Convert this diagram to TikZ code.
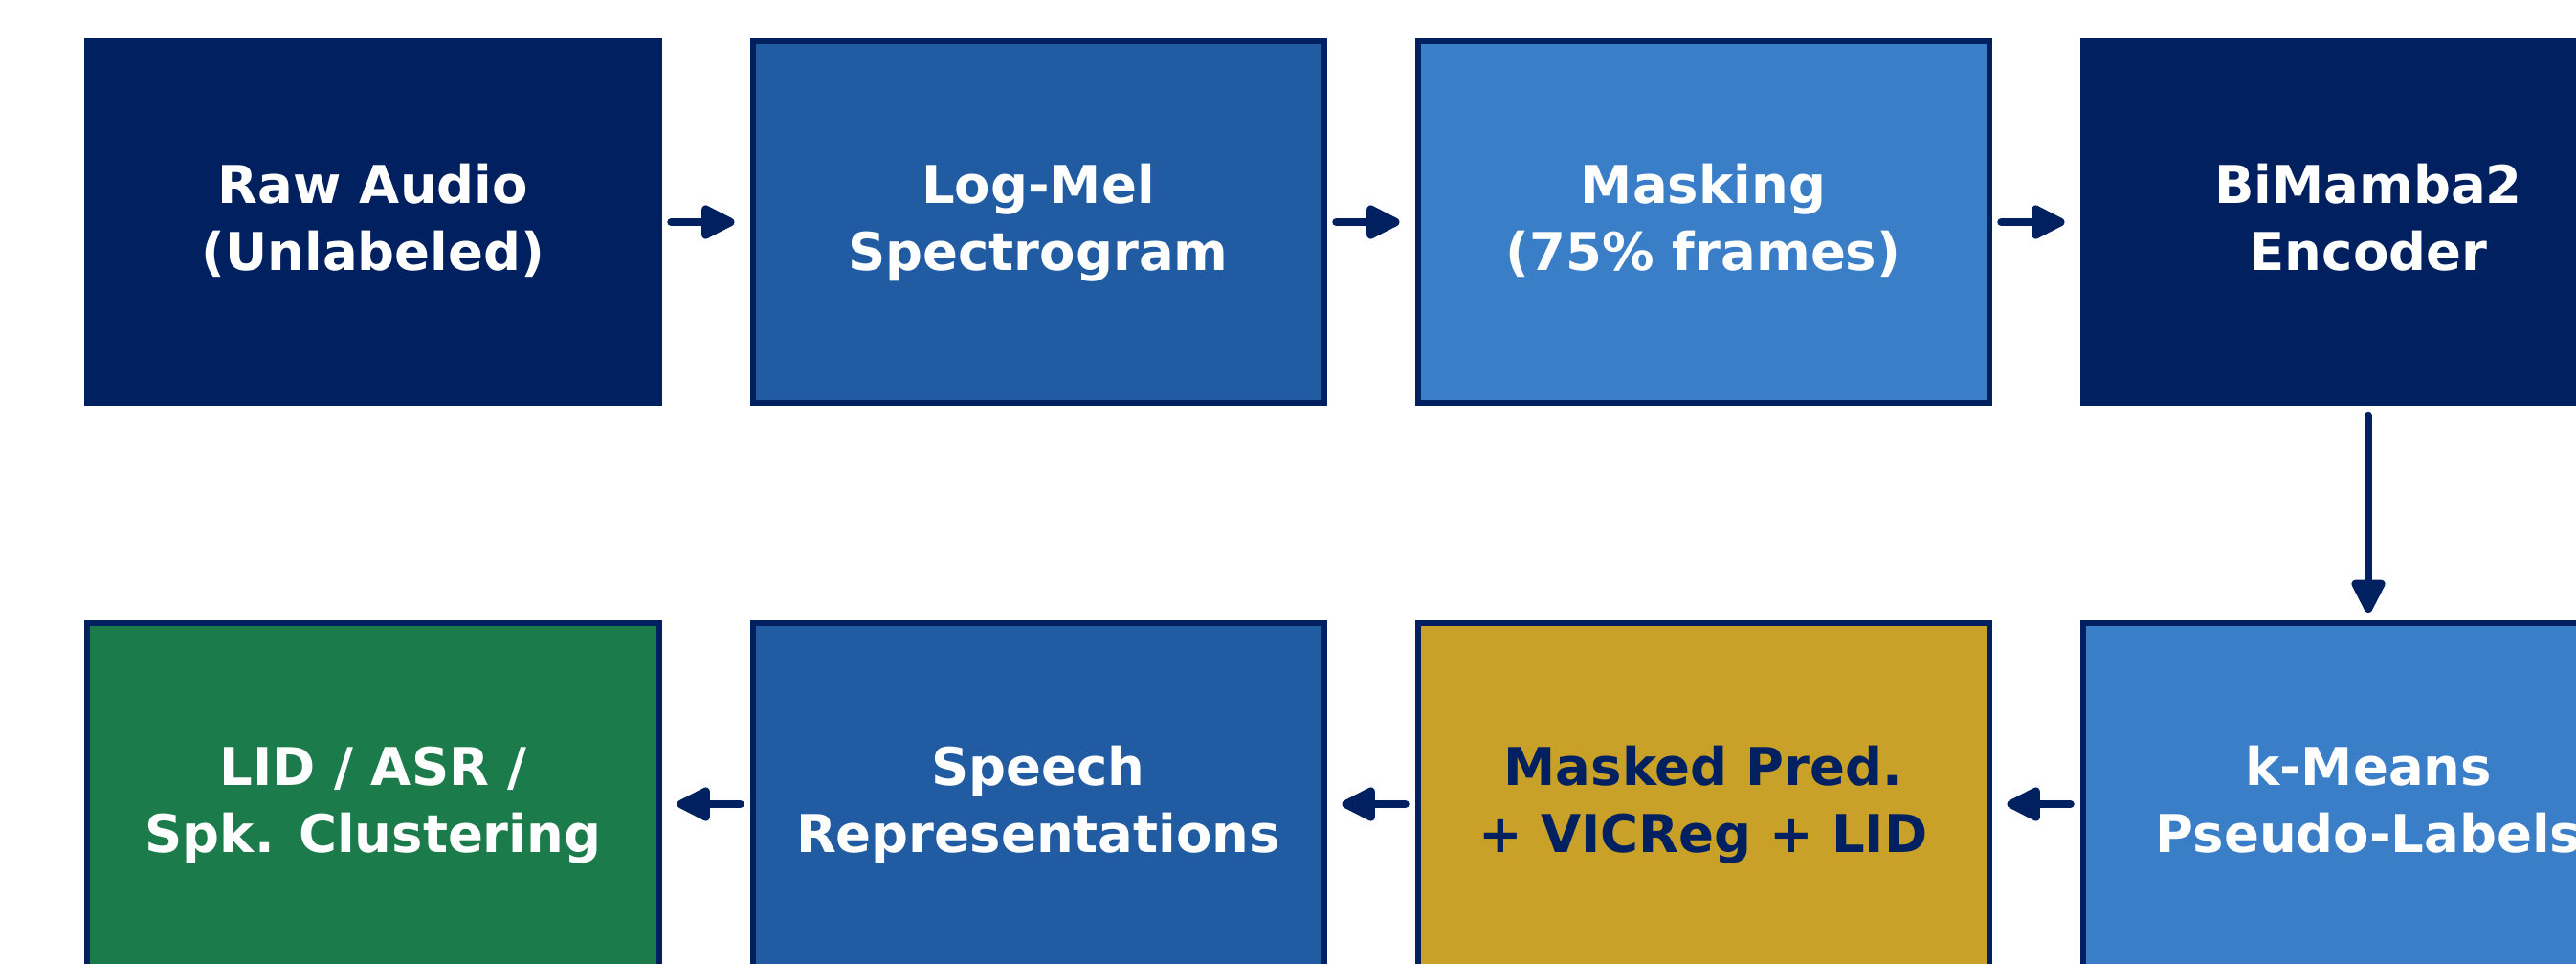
\documentclass[tikz,border=0pt]{standalone}
\usepackage{fontspec}
\setmainfont{DejaVu Sans}
\usetikzlibrary{positioning,arrows.meta}
\definecolor{navy}{HTML}{00205F}
\definecolor{midblue}{HTML}{215CA2}
\definecolor{lightblue}{HTML}{3A7EC8}
\definecolor{gold}{HTML}{C9A129}
\definecolor{taskgreen}{HTML}{1B7B4A}

\begin{document}
\begin{tikzpicture}[
		blk/.style={draw=navy, line width=0.6mm, minimum width=5.97cm, minimum height=3.78cm,
			inner sep=0pt, align=center, text=white, text height=31pt, text depth=2pt,
			font=\fontsize{15.5}{20}\selectfont\bfseries},
		flow/.style={-{Triangle[length=4mm,width=3.8mm,round]}, draw=navy, line width=0.85mm,
			line cap=round, shorten <=1mm, shorten >=1.6mm}
	]
		%%%%% START %%%%%
		
		\useasboundingbox (0, 0) rectangle (26.92, -10.07);
		\clip (0, 0) rectangle (26.92, -10.07);
		
		% top row
		\node[blk, fill=navy] (raw) at (3.9, -2.32) {Raw Audio\\(Unlabeled)};
		\node[blk, fill=midblue, right=0.92cm of raw] (mel) {Log-Mel\\Spectrogram};
		\node[blk, fill=lightblue, right=0.92cm of mel] (mask) {Masking\\(75\% frames)};
		\node[blk, fill=navy, right=0.92cm of mask] (enc) {BiMamba2\\Encoder};
		
		% bottom row
		\node[blk, fill=lightblue, below=2.24cm of enc] (kmeans) {k-Means\\Pseudo-Labels};
		\node[blk, fill=gold, text=navy, left=0.92cm of kmeans] (pred) {Masked Pred.\\+ VICReg + LID};
		\node[blk, fill=midblue, left=0.92cm of pred] (rep) {Speech\\Representations};
		\node[blk, fill=taskgreen, left=0.92cm of rep] (task) {LID / ASR /\\Spk. Clustering};
		
		\draw[flow] (raw) -- (mel);
		\draw[flow] (mel) -- (mask);
		\draw[flow] (mask) -- (enc);
		\draw[flow, shorten >=0.8mm] (enc) -- (kmeans);
		\draw[flow] (kmeans) -- (pred);
		\draw[flow] (pred) -- (rep);
		\draw[flow] (rep) -- (task);
		
		%%%%% END %%%%%
	\end{tikzpicture}
\end{document}
